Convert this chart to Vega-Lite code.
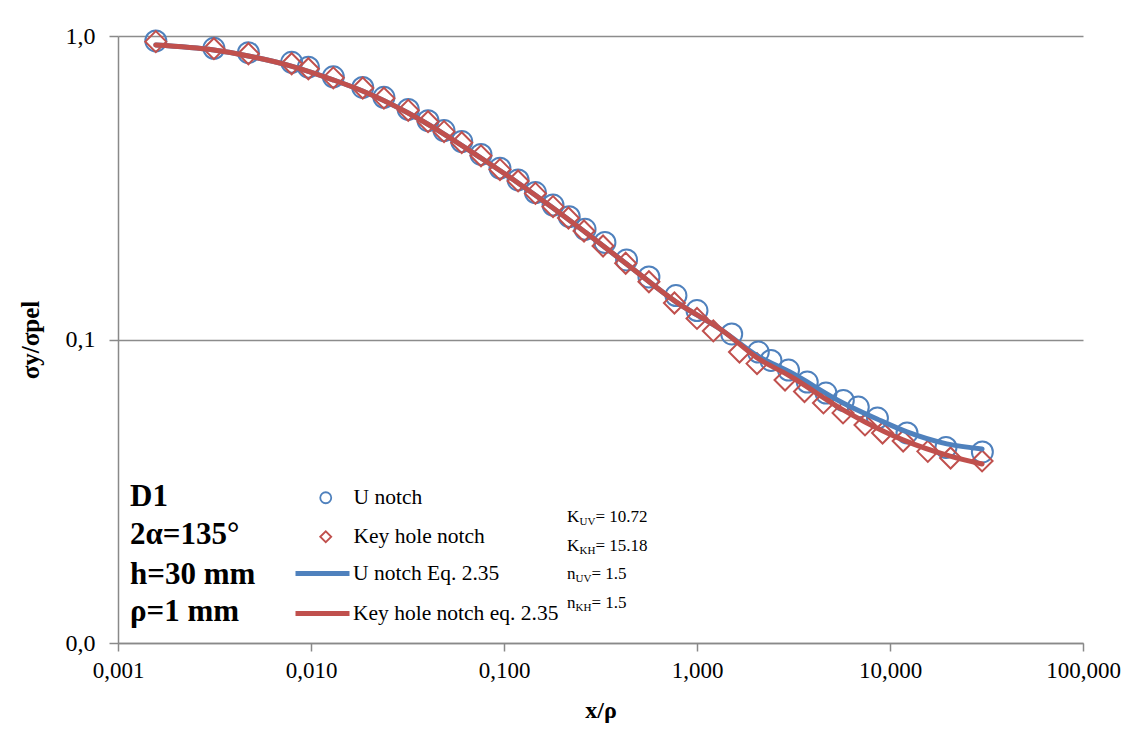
{
  "$schema": "https://vega.github.io/schema/vega-lite/v6.json",
  "width": 965,
  "height": 607,
  "autosize": {"type": "none"},
  "padding": {"left": 118, "top": 36, "right": 56, "bottom": 86},
  "background": "white",
  "config": {
    "font": "Liberation Serif",
    "view": {"stroke": null},
    "axis": {
      "labelFont": "Liberation Serif",
      "titleFont": "Liberation Serif",
      "labelColor": "black",
      "titleColor": "black",
      "domainColor": "#898989",
      "tickColor": "#898989",
      "gridColor": "#8c8c8c",
      "domainWidth": 1.5,
      "tickWidth": 1.5,
      "gridWidth": 1.5,
      "labelFlush": false,
      "labelOverlap": false,
      "labelBound": false
    },
    "legend": {"padding": 0, "labelFont": "Liberation Serif", "labelColor": "black", "labelFontSize": 21.5, "labelLimit": 400}
  },
  "datasets": {
    "pts": [
      {"series": "U notch", "x": 0.00157, "y": 0.963},
      {"series": "U notch", "x": 0.00314, "y": 0.911},
      {"series": "U notch", "x": 0.00474, "y": 0.881},
      {"series": "U notch", "x": 0.00794, "y": 0.819},
      {"series": "U notch", "x": 0.00969, "y": 0.789},
      {"series": "U notch", "x": 0.01305, "y": 0.734},
      {"series": "U notch", "x": 0.01854, "y": 0.677},
      {"series": "U notch", "x": 0.02387, "y": 0.628},
      {"series": "U notch", "x": 0.0319, "y": 0.573},
      {"series": "U notch", "x": 0.0404, "y": 0.526},
      {"series": "U notch", "x": 0.0489, "y": 0.488},
      {"series": "U notch", "x": 0.0604, "y": 0.449},
      {"series": "U notch", "x": 0.076, "y": 0.407},
      {"series": "U notch", "x": 0.0953, "y": 0.367},
      {"series": "U notch", "x": 0.1183, "y": 0.3354},
      {"series": "U notch", "x": 0.1455, "y": 0.305},
      {"series": "U notch", "x": 0.1795, "y": 0.2774},
      {"series": "U notch", "x": 0.2178, "y": 0.254},
      {"series": "U notch", "x": 0.263, "y": 0.2307},
      {"series": "U notch", "x": 0.3334, "y": 0.2088},
      {"series": "U notch", "x": 0.4315, "y": 0.1828},
      {"series": "U notch", "x": 0.5636, "y": 0.1607},
      {"series": "U notch", "x": 0.778, "y": 0.1396},
      {"series": "U notch", "x": 1.0, "y": 0.1246},
      {"series": "U notch", "x": 1.513, "y": 0.1043},
      {"series": "U notch", "x": 2.078, "y": 0.0909},
      {"series": "U notch", "x": 2.417, "y": 0.0853},
      {"series": "U notch", "x": 2.98, "y": 0.0793},
      {"series": "U notch", "x": 3.727, "y": 0.0724},
      {"series": "U notch", "x": 4.66, "y": 0.0666},
      {"series": "U notch", "x": 5.73, "y": 0.063},
      {"series": "U notch", "x": 6.85, "y": 0.0599},
      {"series": "U notch", "x": 8.61, "y": 0.0551},
      {"series": "U notch", "x": 12.25, "y": 0.0492},
      {"series": "U notch", "x": 19.5, "y": 0.0441},
      {"series": "U notch", "x": 30.1, "y": 0.0426},
      {"series": "Key hole notch", "x": 0.00157, "y": 0.958},
      {"series": "Key hole notch", "x": 0.00314, "y": 0.908},
      {"series": "Key hole notch", "x": 0.00474, "y": 0.874},
      {"series": "Key hole notch", "x": 0.00794, "y": 0.81},
      {"series": "Key hole notch", "x": 0.00969, "y": 0.78},
      {"series": "Key hole notch", "x": 0.01305, "y": 0.728},
      {"series": "Key hole notch", "x": 0.01854, "y": 0.674},
      {"series": "Key hole notch", "x": 0.02387, "y": 0.624},
      {"series": "Key hole notch", "x": 0.0319, "y": 0.569},
      {"series": "Key hole notch", "x": 0.0404, "y": 0.522},
      {"series": "Key hole notch", "x": 0.0489, "y": 0.484},
      {"series": "Key hole notch", "x": 0.0604, "y": 0.445},
      {"series": "Key hole notch", "x": 0.076, "y": 0.403},
      {"series": "Key hole notch", "x": 0.0953, "y": 0.363},
      {"series": "Key hole notch", "x": 0.1183, "y": 0.333},
      {"series": "Key hole notch", "x": 0.1455, "y": 0.303},
      {"series": "Key hole notch", "x": 0.1795, "y": 0.274},
      {"series": "Key hole notch", "x": 0.2158, "y": 0.2514},
      {"series": "Key hole notch", "x": 0.2598, "y": 0.2278},
      {"series": "Key hole notch", "x": 0.326, "y": 0.2033},
      {"series": "Key hole notch", "x": 0.427, "y": 0.1783},
      {"series": "Key hole notch", "x": 0.5636, "y": 0.155},
      {"series": "Key hole notch", "x": 0.764, "y": 0.1319},
      {"series": "Key hole notch", "x": 1.0, "y": 0.1173},
      {"series": "Key hole notch", "x": 1.215, "y": 0.1067},
      {"series": "Key hole notch", "x": 1.66, "y": 0.0909},
      {"series": "Key hole notch", "x": 2.046, "y": 0.0833},
      {"series": "Key hole notch", "x": 2.858, "y": 0.0735},
      {"series": "Key hole notch", "x": 3.606, "y": 0.0674},
      {"series": "Key hole notch", "x": 4.52, "y": 0.0618},
      {"series": "Key hole notch", "x": 5.71, "y": 0.0573},
      {"series": "Key hole notch", "x": 7.42, "y": 0.0523},
      {"series": "Key hole notch", "x": 9.15, "y": 0.0492},
      {"series": "Key hole notch", "x": 11.7, "y": 0.0463},
      {"series": "Key hole notch", "x": 15.7, "y": 0.0428},
      {"series": "Key hole notch", "x": 20.6, "y": 0.0407},
      {"series": "Key hole notch", "x": 30.0, "y": 0.0398}
    ],
    "lines": [
      {"series": "U notch Eq. 2.35", "x": 0.00157, "y": 0.934},
      {"series": "U notch Eq. 2.35", "x": 0.00314, "y": 0.899},
      {"series": "U notch Eq. 2.35", "x": 0.00474, "y": 0.859},
      {"series": "U notch Eq. 2.35", "x": 0.0079, "y": 0.796},
      {"series": "U notch Eq. 2.35", "x": 0.0131, "y": 0.716},
      {"series": "U notch Eq. 2.35", "x": 0.0185, "y": 0.659},
      {"series": "U notch Eq. 2.35", "x": 0.0319, "y": 0.5575},
      {"series": "U notch Eq. 2.35", "x": 0.0489, "y": 0.4754},
      {"series": "U notch Eq. 2.35", "x": 0.076, "y": 0.3963},
      {"series": "U notch Eq. 2.35", "x": 0.1183, "y": 0.328},
      {"series": "U notch Eq. 2.35", "x": 0.1795, "y": 0.2713},
      {"series": "U notch Eq. 2.35", "x": 0.263, "y": 0.226},
      {"series": "U notch Eq. 2.35", "x": 0.4315, "y": 0.1773},
      {"series": "U notch Eq. 2.35", "x": 0.778, "y": 0.133},
      {"series": "U notch Eq. 2.35", "x": 1.364, "y": 0.1067},
      {"series": "U notch Eq. 2.35", "x": 2.05, "y": 0.0885},
      {"series": "U notch Eq. 2.35", "x": 3.03, "y": 0.0781},
      {"series": "U notch Eq. 2.35", "x": 5.71, "y": 0.0618},
      {"series": "U notch Eq. 2.35", "x": 8.57, "y": 0.0547},
      {"series": "U notch Eq. 2.35", "x": 12.25, "y": 0.0496},
      {"series": "U notch Eq. 2.35", "x": 19.7, "y": 0.0453},
      {"series": "U notch Eq. 2.35", "x": 30.0, "y": 0.0436},
      {"series": "Key hole notch eq. 2.35", "x": 0.00157, "y": 0.934},
      {"series": "Key hole notch eq. 2.35", "x": 0.00314, "y": 0.899},
      {"series": "Key hole notch eq. 2.35", "x": 0.00474, "y": 0.859},
      {"series": "Key hole notch eq. 2.35", "x": 0.0079, "y": 0.796},
      {"series": "Key hole notch eq. 2.35", "x": 0.0131, "y": 0.716},
      {"series": "Key hole notch eq. 2.35", "x": 0.0185, "y": 0.659},
      {"series": "Key hole notch eq. 2.35", "x": 0.0319, "y": 0.5575},
      {"series": "Key hole notch eq. 2.35", "x": 0.0489, "y": 0.4754},
      {"series": "Key hole notch eq. 2.35", "x": 0.076, "y": 0.3963},
      {"series": "Key hole notch eq. 2.35", "x": 0.1183, "y": 0.328},
      {"series": "Key hole notch eq. 2.35", "x": 0.1795, "y": 0.2713},
      {"series": "Key hole notch eq. 2.35", "x": 0.263, "y": 0.226},
      {"series": "Key hole notch eq. 2.35", "x": 0.4315, "y": 0.1773},
      {"series": "Key hole notch eq. 2.35", "x": 0.778, "y": 0.133},
      {"series": "Key hole notch eq. 2.35", "x": 1.364, "y": 0.1067},
      {"series": "Key hole notch eq. 2.35", "x": 2.05, "y": 0.087},
      {"series": "Key hole notch eq. 2.35", "x": 3.03, "y": 0.0758},
      {"series": "Key hole notch eq. 2.35", "x": 5.71, "y": 0.0586},
      {"series": "Key hole notch eq. 2.35", "x": 7.42, "y": 0.0535},
      {"series": "Key hole notch eq. 2.35", "x": 11.67, "y": 0.0467},
      {"series": "Key hole notch eq. 2.35", "x": 20.5, "y": 0.0413},
      {"series": "Key hole notch eq. 2.35", "x": 30.0, "y": 0.0389}
    ],
    "notes": [
      {"label": "D1", "x": 0.001154, "y": 0.03028},
      {"label": "2α=135°", "x": 0.001154, "y": 0.02269},
      {"label": "h=30 mm", "x": 0.001154, "y": 0.01675},
      {"label": "ρ=1 mm", "x": 0.001154, "y": 0.01265}
    ],
    "ktext": [
      {"kind": "K", "main": "K", "sub": "UV", "rest": "= 10.72", "x": 0.2121, "y": 0.02602},
      {"kind": "K", "main": "K", "sub": "KH", "rest": "= 15.18", "x": 0.2121, "y": 0.02088},
      {"kind": "n", "main": "n", "sub": "UV", "rest": "= 1.5", "x": 0.2121, "y": 0.01688},
      {"kind": "n", "main": "n", "sub": "KH", "rest": "= 1.5", "x": 0.2121, "y": 0.01354}
    ]
  },
  "encoding": {
    "x": {
      "field": "x", "type": "quantitative",
      "scale": {"type": "log", "domain": [0.001, 100], "nice": false},
      "axis": {
        "title": "x/ρ", "titleFontSize": 24, "titleFontWeight": "bold", "titlePadding": 16,
        "values": [0.001, 0.01, 0.1, 1, 10, 100],
        "labelExpr": "replace(format(datum.value, '.3f'), '.', ',')",
        "labelFontSize": 23, "labelPadding": 8, "tickSize": 8, "grid": false
      }
    },
    "y": {
      "field": "y", "type": "quantitative",
      "scale": {"type": "log", "domain": [0.01, 1], "nice": false},
      "axis": {
        "title": "σy/σpel", "titleFontSize": 25, "titleFontWeight": "bold", "titlePadding": 22,
        "values": [0.01, 0.1, 1],
        "labelExpr": "replace(format(datum.value, '.1f'), '.', ',')",
        "labelFontSize": 24, "labelPadding": 14, "tickSize": 9, "grid": true
      }
    }
  },
  "layer": [
    {
      "data": {"name": "pts"},
      "mark": {"type": "point", "filled": false, "strokeWidth": 2, "size": 440, "opacity": 1},
      "encoding": {
        "stroke": {
          "field": "series", "type": "nominal",
          "scale": {"domain": ["U notch", "Key hole notch"], "range": ["#4F81BD", "#C0504D"]},
          "legend": {"orient": "none", "legendX": 197, "legendY": 451, "title": null, "symbolSize": 121, "symbolStrokeWidth": 1.8, "labelOffset": 17, "rowPadding": 16}
        },
        "shape": {
          "field": "series", "type": "nominal",
          "scale": {"domain": ["U notch", "Key hole notch"], "range": ["circle", "diamond"]},
          "legend": {"orient": "none", "legendX": 197, "legendY": 451, "title": null, "symbolSize": 121, "symbolStrokeWidth": 1.8, "labelOffset": 17, "rowPadding": 16}
        }
      }
    },
    {
      "data": {"name": "lines"},
      "transform": [{"filter": "datum.series === 'U notch Eq. 2.35'"}],
      "mark": {"type": "line", "strokeWidth": 5, "interpolate": "monotone", "strokeCap": "round"},
      "encoding": {
        "color": {
          "field": "series", "type": "nominal",
          "scale": {"domain": ["U notch Eq. 2.35", "Key hole notch eq. 2.35"], "range": ["#4F81BD", "#C0504D"]},
          "legend": {"orient": "none", "legendX": 175, "legendY": 508, "title": null, "symbolType": "stroke", "symbolSize": 2916, "symbolStrokeWidth": 5, "labelOffset": 1, "rowPadding": -2}
        }
      }
    },
    {
      "data": {"name": "lines"},
      "transform": [{"filter": "datum.series === 'Key hole notch eq. 2.35'"}],
      "mark": {"type": "line", "strokeWidth": 5, "interpolate": "monotone", "strokeCap": "round"},
      "encoding": {
        "color": {
          "field": "series", "type": "nominal",
          "scale": {"domain": ["U notch Eq. 2.35", "Key hole notch eq. 2.35"], "range": ["#4F81BD", "#C0504D"]},
          "legend": {"orient": "none", "legendX": 175, "legendY": 508, "title": null, "symbolType": "stroke", "symbolSize": 2916, "symbolStrokeWidth": 5, "labelOffset": 1, "rowPadding": -2}
        }
      }
    },
    {
      "data": {"name": "notes"},
      "mark": {"type": "text", "align": "left", "baseline": "middle", "fontSize": 31, "fontWeight": "bold", "font": "Liberation Serif", "color": "black"},
      "encoding": {"text": {"field": "label"}}
    },
    {
      "data": {"name": "ktext"},
      "mark": {"type": "text", "align": "left", "baseline": "middle", "fontSize": 17, "font": "Liberation Serif", "color": "black"},
      "encoding": {"text": {"field": "main"}}
    },
    {
      "data": {"name": "ktext"},
      "transform": [{"filter": "datum.kind === 'K'"}],
      "mark": {"type": "text", "align": "left", "baseline": "middle", "fontSize": 11, "dx": 12.5, "dy": 5, "font": "Liberation Serif", "color": "black"},
      "encoding": {"text": {"field": "sub"}}
    },
    {
      "data": {"name": "ktext"},
      "transform": [{"filter": "datum.kind === 'n'"}],
      "mark": {"type": "text", "align": "left", "baseline": "middle", "fontSize": 11, "dx": 8.5, "dy": 5, "font": "Liberation Serif", "color": "black"},
      "encoding": {"text": {"field": "sub"}}
    },
    {
      "data": {"name": "ktext"},
      "transform": [{"filter": "datum.kind === 'K'"}],
      "mark": {"type": "text", "align": "left", "baseline": "middle", "fontSize": 17, "dx": 28.5, "font": "Liberation Serif", "color": "black"},
      "encoding": {"text": {"field": "rest"}}
    },
    {
      "data": {"name": "ktext"},
      "transform": [{"filter": "datum.kind === 'n'"}],
      "mark": {"type": "text", "align": "left", "baseline": "middle", "fontSize": 17, "dx": 24.5, "font": "Liberation Serif", "color": "black"},
      "encoding": {"text": {"field": "rest"}}
    }
  ]
}
